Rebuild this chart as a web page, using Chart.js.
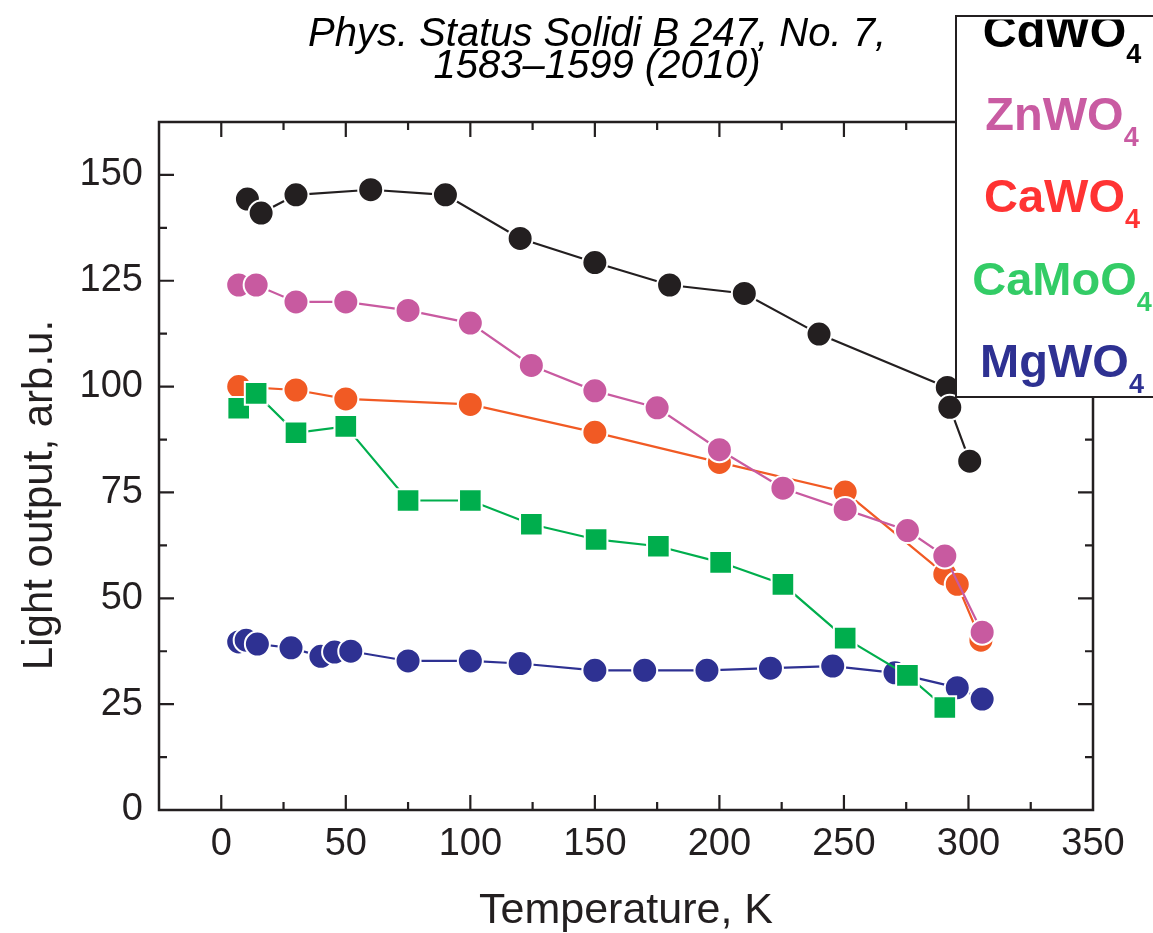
<!DOCTYPE html>
<html>
<head>
<meta charset="utf-8">
<title>Light output vs temperature</title>
<script src="https://cdn.jsdelivr.net/npm/chart.js@4.4.1/dist/chart.umd.min.js"></script>
<style>
  html, body { margin: 0; padding: 0; background: #fff; }
  #wrap { width: 1153px; height: 933px; position: relative; }
</style>
</head>
<body>
<div id="wrap"><canvas id="lightChart"></canvas></div>
<script>
// Temperatura (K) e light output (arb.u.)
const cdwo4Temp  = [10.5, 16, 30, 60, 90, 120, 150, 180, 210, 240, 291.5, 292.5, 300.5];
const cdwo4Light = [144.3, 141, 145.3, 146.5, 145.3, 135, 129.3, 124, 122, 112.4, 99.8, 95.1, 82.4];

const znwo4Temp  = [7, 14, 30, 50, 75, 100, 124.5, 150, 175, 200, 225.5, 250.5, 275.5, 290.5, 305.5];
const znwo4Light = [124, 124, 120, 120, 118, 115, 105, 99, 95, 85.1, 76, 71, 66, 60, 42];

const cawo4Temp  = [7, 30, 50, 100, 150, 200, 250.5, 290.5, 295.5, 305];
const cawo4Light = [100, 99.2, 97.1, 95.8, 89.2, 82.1, 75.1, 55.7, 53.3, 40.1];

const camoo4Temp  = [7, 14, 30, 50, 75, 100, 124.5, 150.5, 175.5, 200.5, 225.5, 250.5, 275.5, 290.5];
const camoo4Light = [94.9, 98.4, 89.1, 90.6, 73.1, 73.1, 67.5, 63.9, 62.3, 58.5, 53.3, 40.6, 31.8, 24.2];

const mgwo4Temp  = [7, 10, 14.5, 28, 40, 45.5, 52, 75, 100, 120, 150, 170, 195, 220.5, 245.5, 270.5, 295.5, 305.5];
const mgwo4Light = [39.7, 40.1, 39.2, 38.3, 36.3, 37.3, 37.5, 35.2, 35.2, 34.6, 33, 33, 33, 33.5, 34, 32.4, 28.9, 26.2];

const xTickValues = [0, 50, 100, 150, 200, 250, 300, 350];
const yTickValues = [0, 25, 50, 75, 100, 125, 150];

const seriesNames  = ['CdWO', 'ZnWO', 'CaWO', 'CaMoO', 'MgWO'];
const markerColors = ['#231f20', '#c85aa0', '#f15a24', '#00ae4d', '#2e3192'];
const labelColors  = ['#000000', '#c95ba2', '#ff3333', '#33cc66', '#2e3192'];

const FONT = "'Liberation Sans', Arial, sans-serif";
const INK = '#231f20';

function toPoints(xs, ys) {
    return xs.map((x, i) => ({ x: x, y: ys[i] }));
}

function makeSet(idx, xs, ys, style, order) {
    return {
        label: seriesNames[idx] + '4',
        data: toPoints(xs, ys),
        borderColor: markerColors[idx],
        backgroundColor: markerColors[idx],
        borderWidth: 2.2,
        pointStyle: style,
        pointRadius: style === 'rect' ? 16 : 12.5,
        pointBorderColor: '#ffffff',
        pointBorderWidth: 2,
        pointBackgroundColor: markerColors[idx],
        tension: 0,
        order: order
    };
}

// moldura + ticks para dentro nos quatro lados
const framePlugin = {
    id: 'frame',
    beforeDatasetsDraw(chart) {
        const { ctx, chartArea: a, scales: { x, y } } = chart;
        ctx.save();
        ctx.strokeStyle = INK;
        ctx.lineWidth = 2.5;
        ctx.strokeRect(a.left, a.top, a.right - a.left, a.bottom - a.top);
        ctx.lineWidth = 2.2;
        ctx.beginPath();
        for (let v = 0; v < 350; v += 25) {
            const px = x.getPixelForValue(v);
            const len = v % 50 === 0 ? 15 : 8;
            ctx.moveTo(px, a.bottom); ctx.lineTo(px, a.bottom - len);
            ctx.moveTo(px, a.top); ctx.lineTo(px, a.top + len);
        }
        for (let v = 12.5; v < 162.5; v += 12.5) {
            const py = y.getPixelForValue(v);
            const len = v % 25 === 0 ? 15 : 8;
            ctx.moveTo(a.left, py); ctx.lineTo(a.left + len, py);
            ctx.moveTo(a.right, py); ctx.lineTo(a.right - len, py);
        }
        ctx.stroke();
        ctx.restore();
    },
    afterDraw(chart) {
        const ctx = chart.ctx;
        ctx.save();
        ctx.fillStyle = '#000';
        ctx.textAlign = 'center';
        ctx.textBaseline = 'alphabetic';

        // referência bibliográfica no topo
        ctx.font = 'italic 40px ' + FONT;
        ctx.fillText('Phys. Status Solidi B 247, No. 7,', 597, 46);
        ctx.fillText('1583\u20131599 (2010)', 597, 78);

        // título do eixo y
        ctx.fillStyle = INK;
        ctx.save();
        ctx.translate(52, 495);
        ctx.rotate(-Math.PI / 2);
        ctx.font = '42px ' + FONT;
        ctx.fillText('Light output, arb.u.', 0, 0);
        ctx.restore();

        // legenda (caixa cortada pela borda direita)
        ctx.fillStyle = '#ffffff';
        ctx.fillRect(956, 16, 220, 381);
        ctx.strokeStyle = INK;
        ctx.lineWidth = 2;
        ctx.strokeRect(956, 16, 220, 381);
        ctx.beginPath();
        ctx.rect(957, 19.5, 220, 376);
        ctx.clip();
        ctx.textAlign = 'left';
        seriesNames.forEach((name, i) => {
            const base = 47 + i * 82.5;
            ctx.font = 'bold 47px ' + FONT;
            const w1 = ctx.measureText(name).width;
            ctx.font = 'bold 27px ' + FONT;
            const w2 = ctx.measureText('4').width;
            const x0 = 1062 - (w1 + w2) / 2;
            ctx.fillStyle = labelColors[i];
            ctx.font = 'bold 47px ' + FONT;
            ctx.fillText(name, x0, base);
            ctx.font = 'bold 27px ' + FONT;
            ctx.fillText('4', x0 + w1, base + 16);
        });
        ctx.restore();
    }
};

document.addEventListener('DOMContentLoaded', function() {
    const ctx = document.getElementById('lightChart');

    new Chart(ctx, {
        type: 'line',
        data: {
            datasets: [
                makeSet(0, cdwo4Temp, cdwo4Light, 'circle', 5),
                makeSet(1, znwo4Temp, znwo4Light, 'circle', 1),
                makeSet(2, cawo4Temp, cawo4Light, 'circle', 3),
                makeSet(3, camoo4Temp, camoo4Light, 'rect', 2),
                makeSet(4, mgwo4Temp, mgwo4Light, 'circle', 4)
            ]
        },
        options: {
            responsive: true,
            maintainAspectRatio: false,
            animation: false,
            layout: { padding: { top: 122, right: 60, left: 0, bottom: 0 } },
            plugins: {
                legend: { display: false },
                tooltip: { enabled: false },
                title: { display: false }
            },
            scales: {
                x: {
                    type: 'linear',
                    min: -25,
                    max: 350,
                    afterBuildTicks: (s) => { s.ticks = xTickValues.map(v => ({ value: v })); },
                    afterFit: (s) => { s.height = 123; },
                    grid: { display: false, drawTicks: false },
                    border: { display: false },
                    ticks: {
                        color: INK,
                        padding: 12,
                        maxRotation: 0,
                        autoSkip: false,
                        font: { family: FONT, size: 38 }
                    },
                    title: {
                        display: true,
                        text: 'Temperature, K',
                        color: INK,
                        padding: { top: 0, bottom: 0 },
                        font: { family: FONT, size: 43, lineHeight: 1 }
                    }
                },
                y: {
                    min: 0,
                    max: 162.5,
                    afterBuildTicks: (s) => { s.ticks = yTickValues.map(v => ({ value: v })); },
                    afterFit: (s) => { s.width = 159; },
                    grid: { display: false, drawTicks: false },
                    border: { display: false },
                    ticks: {
                        color: INK,
                        padding: 16,
                        autoSkip: false,
                        font: { family: FONT, size: 38 }
                    }
                }
            }
        },
        plugins: [framePlugin]
    });
});
</script>
</body>
</html>
